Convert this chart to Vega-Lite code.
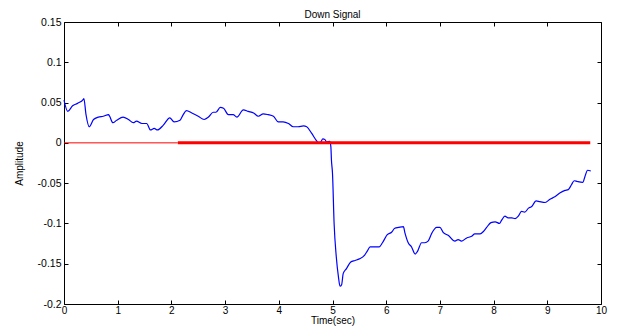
{
  "$schema": "https://vega.github.io/schema/vega-lite/v6.json",
  "width": 537,
  "height": 282,
  "autosize": {"type": "none"},
  "padding": {"left": 64, "top": 22, "right": 19, "bottom": 22},
  "background": "white",
  "config": {
    "font": "Liberation Sans",
    "view": {"stroke": "black", "strokeWidth": 1},
    "axis": {
      "domain": false,
      "grid": false,
      "ticks": true,
      "tickColor": "black",
      "tickSize": -4,
      "tickWidth": 1,
      "labelPadding": 7,
      "labelFontSize": 10.5,
      "labelColor": "black",
      "labelFont": "Liberation Sans",
      "titleFont": "Liberation Sans",
      "titleFontSize": 10,
      "titleFontWeight": "normal",
      "titleColor": "black"
    }
  },
  "title": {"text": "Down Signal", "fontSize": 10, "fontWeight": "normal", "font": "Liberation Sans", "color": "black", "anchor": "middle", "offset": -3},
  "resolve": {"axis": {"x": "independent", "y": "independent"}},
  "layer": [
    {
      "data": {"values": [{"t0": 0, "t1": 2.12, "v": 0}]},
      "mark": {"type": "rule", "color": "#ff0000", "strokeWidth": 1},
      "encoding": {
        "x": {"field": "t0", "type": "quantitative", "scale": {"domain": [0, 10], "nice": false, "zero": false},
          "axis": {"orient": "bottom", "title": "Time(sec)", "values": [0,1,2,3,4,5,6,7,8,9,10], "labelExpr": "'' + datum.value", "labelPadding": 5.5, "labelFontSize": 10, "titlePadding": 0, "labelFlush": false}},
        "x2": {"field": "t1"},
        "y": {"field": "v", "type": "quantitative", "scale": {"domain": [-0.2, 0.15], "nice": false, "zero": false},
          "axis": {"orient": "left", "title": "Amplitude", "values": [-0.2,-0.15,-0.1,-0.05,0,0.05,0.1,0.15], "labelExpr": "'' + datum.value", "titlePadding": 13}}
      }
    },
    {
      "data": {"values": [
        {"t": 0.0, "v": 0.053}, {"t": 0.07, "v": 0.039}, {"t": 0.16, "v": 0.046}, {"t": 0.25, "v": 0.049},
        {"t": 0.36, "v": 0.054}, {"t": 0.37, "v": 0.055}, {"t": 0.41, "v": 0.035}, {"t": 0.47, "v": 0.020},
        {"t": 0.55, "v": 0.029}, {"t": 0.64, "v": 0.032}, {"t": 0.73, "v": 0.033}, {"t": 0.83, "v": 0.035},
        {"t": 0.85, "v": 0.033}, {"t": 0.91, "v": 0.025}, {"t": 0.98, "v": 0.028}, {"t": 1.10, "v": 0.032},
        {"t": 1.20, "v": 0.029}, {"t": 1.29, "v": 0.025}, {"t": 1.35, "v": 0.027}, {"t": 1.45, "v": 0.024},
        {"t": 1.54, "v": 0.024}, {"t": 1.61, "v": 0.016}, {"t": 1.68, "v": 0.018}, {"t": 1.74, "v": 0.016},
        {"t": 1.85, "v": 0.022}, {"t": 1.97, "v": 0.031}, {"t": 2.05, "v": 0.026}, {"t": 2.16, "v": 0.028},
        {"t": 2.22, "v": 0.035}, {"t": 2.28, "v": 0.040}, {"t": 2.38, "v": 0.037}, {"t": 2.50, "v": 0.033},
        {"t": 2.61, "v": 0.029}, {"t": 2.69, "v": 0.032}, {"t": 2.78, "v": 0.038}, {"t": 2.83, "v": 0.038},
        {"t": 2.91, "v": 0.044}, {"t": 2.97, "v": 0.043}, {"t": 3.06, "v": 0.035}, {"t": 3.15, "v": 0.035},
        {"t": 3.22, "v": 0.032}, {"t": 3.34, "v": 0.041}, {"t": 3.43, "v": 0.039}, {"t": 3.53, "v": 0.037},
        {"t": 3.62, "v": 0.033}, {"t": 3.71, "v": 0.036}, {"t": 3.80, "v": 0.035}, {"t": 3.90, "v": 0.033},
        {"t": 3.99, "v": 0.026}, {"t": 4.08, "v": 0.026}, {"t": 4.18, "v": 0.024}, {"t": 4.27, "v": 0.020},
        {"t": 4.36, "v": 0.020}, {"t": 4.46, "v": 0.021}, {"t": 4.52, "v": 0.020}, {"t": 4.61, "v": 0.012},
        {"t": 4.71, "v": 0.002}, {"t": 4.74, "v": 0.000}, {"t": 4.78, "v": 0.001}, {"t": 4.82, "v": 0.005},
        {"t": 4.86, "v": 0.004}, {"t": 4.89, "v": 0.001}, {"t": 4.95, "v": 0.002}, {"t": 4.97, "v": -0.005},
        {"t": 4.98, "v": -0.021}, {"t": 5.00, "v": -0.038}, {"t": 5.03, "v": -0.100}, {"t": 5.07, "v": -0.141},
        {"t": 5.11, "v": -0.166}, {"t": 5.14, "v": -0.178}, {"t": 5.17, "v": -0.176}, {"t": 5.20, "v": -0.162},
        {"t": 5.26, "v": -0.156}, {"t": 5.34, "v": -0.148}, {"t": 5.42, "v": -0.146}, {"t": 5.50, "v": -0.144},
        {"t": 5.59, "v": -0.140}, {"t": 5.65, "v": -0.134}, {"t": 5.70, "v": -0.129}, {"t": 5.77, "v": -0.129},
        {"t": 5.87, "v": -0.129}, {"t": 5.93, "v": -0.124}, {"t": 6.02, "v": -0.114}, {"t": 6.10, "v": -0.111},
        {"t": 6.16, "v": -0.106}, {"t": 6.23, "v": -0.105}, {"t": 6.32, "v": -0.104}, {"t": 6.35, "v": -0.112},
        {"t": 6.41, "v": -0.124}, {"t": 6.47, "v": -0.129}, {"t": 6.54, "v": -0.138}, {"t": 6.58, "v": -0.135},
        {"t": 6.66, "v": -0.124}, {"t": 6.72, "v": -0.124}, {"t": 6.78, "v": -0.122}, {"t": 6.85, "v": -0.112},
        {"t": 6.94, "v": -0.105}, {"t": 7.00, "v": -0.105}, {"t": 7.06, "v": -0.111}, {"t": 7.16, "v": -0.115},
        {"t": 7.28, "v": -0.122}, {"t": 7.34, "v": -0.120}, {"t": 7.40, "v": -0.122}, {"t": 7.50, "v": -0.118},
        {"t": 7.59, "v": -0.116}, {"t": 7.65, "v": -0.113}, {"t": 7.75, "v": -0.113}, {"t": 7.81, "v": -0.110},
        {"t": 7.87, "v": -0.105}, {"t": 7.95, "v": -0.099}, {"t": 8.03, "v": -0.098}, {"t": 8.11, "v": -0.100},
        {"t": 8.15, "v": -0.096}, {"t": 8.21, "v": -0.091}, {"t": 8.27, "v": -0.093}, {"t": 8.34, "v": -0.093},
        {"t": 8.40, "v": -0.094}, {"t": 8.46, "v": -0.091}, {"t": 8.52, "v": -0.085}, {"t": 8.58, "v": -0.086},
        {"t": 8.65, "v": -0.081}, {"t": 8.71, "v": -0.079}, {"t": 8.79, "v": -0.072}, {"t": 8.86, "v": -0.073},
        {"t": 8.96, "v": -0.074}, {"t": 9.05, "v": -0.070}, {"t": 9.14, "v": -0.067}, {"t": 9.24, "v": -0.062},
        {"t": 9.33, "v": -0.059}, {"t": 9.39, "v": -0.058}, {"t": 9.45, "v": -0.052}, {"t": 9.50, "v": -0.047},
        {"t": 9.56, "v": -0.048}, {"t": 9.66, "v": -0.049}, {"t": 9.70, "v": -0.042}, {"t": 9.75, "v": -0.034},
        {"t": 9.81, "v": -0.035}
      ]},
      "mark": {"type": "line", "color": "#0000ff", "strokeWidth": 1.2, "interpolate": "monotone"},
      "encoding": {
        "x": {"field": "t", "type": "quantitative", "scale": {"domain": [0, 10], "nice": false, "zero": false},
          "axis": {"orient": "top", "title": null, "labels": false, "values": [0,1,2,3,4,5,6,7,8,9,10]}},
        "y": {"field": "v", "type": "quantitative", "scale": {"domain": [-0.2, 0.15], "nice": false, "zero": false},
          "axis": {"orient": "right", "title": null, "labels": false, "values": [-0.2,-0.15,-0.1,-0.05,0,0.05,0.1,0.15]}}
      }
    },
    {
      "data": {"values": [{"t0": 2.12, "t1": 9.8, "v": 0}]},
      "mark": {"type": "rule", "color": "#ff0000", "strokeWidth": 3},
      "encoding": {
        "x": {"field": "t0", "type": "quantitative", "scale": {"domain": [0, 10], "nice": false, "zero": false}, "axis": null},
        "x2": {"field": "t1"},
        "y": {"field": "v", "type": "quantitative", "scale": {"domain": [-0.2, 0.15], "nice": false, "zero": false}, "axis": null}
      }
    }
  ]
}
